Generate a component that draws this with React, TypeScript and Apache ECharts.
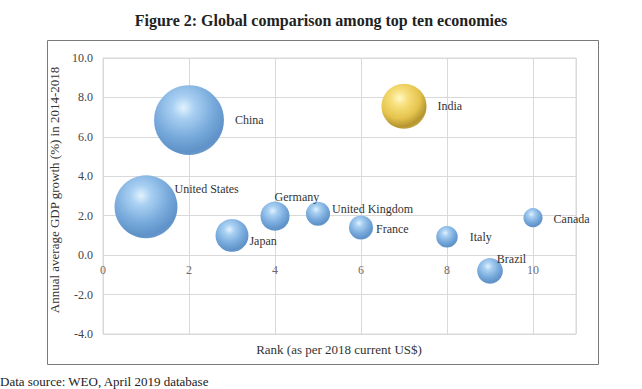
import React, { useEffect, useRef } from "react";
import * as echarts from "echarts";

const countries = ["United States", "China", "Japan", "Germany", "United Kingdom", "France", "India", "Italy", "Brazil", "Canada"];
const ranks = [1, 2, 3, 4, 5, 6, 7, 8, 9, 10];
const growth = [2.45, 6.85, 1.0, 1.98, 2.1, 1.4, 7.55, 0.93, -0.8, 1.9];
// bubble value (estimated, GDP PPP in US$ trillion)
const bubbleValue = [20.5, 25.3, 5.6, 4.4, 3.0, 3.0, 10.5, 2.4, 3.4, 1.9];
const yTicks = [-4, -2, 0, 2, 4, 6, 8, 10];
const xTicks = [0, 2, 4, 6, 8, 10];

const labelOffsets: Record<string, [number, number]> = {
  "United States": [-8, -18],
  China: [6, 0],
  Japan: [-4, 6],
  Germany: [-20, -19],
  "United Kingdom": [-3, -5],
  France: [-2, 1],
  India: [6, 0],
  Italy: [7, 0],
  Brazil: [-11, -12],
  Canada: [6, 1],
};

const blueGrad = {
  type: "radial", x: 0.42, y: 0.32, r: 0.72,
  colorStops: [
    { offset: 0, color: "#e2f2fd" },
    { offset: 0.22, color: "#a9d0f2" },
    { offset: 0.6, color: "#78aadc" },
    { offset: 0.88, color: "#5f92c8" },
    { offset: 1, color: "#6d9bcc" },
  ],
};
const goldGrad = {
  type: "radial", x: 0.4, y: 0.32, r: 0.72,
  colorStops: [
    { offset: 0, color: "#fff8c6" },
    { offset: 0.25, color: "#f7df7c" },
    { offset: 0.62, color: "#e5c44e" },
    { offset: 0.88, color: "#b59530" },
    { offset: 1, color: "#c9ab48" },
  ],
};

const serif = "'Liberation Serif', 'DejaVu Serif', serif";

export default function App() {
  const ref = useRef<HTMLDivElement>(null);
  useEffect(() => {
    if (!ref.current) return;
    const chart = echarts.init(ref.current, null, { renderer: "svg" });
    const data = countries.map((c, i) => ({
      name: c,
      value: [ranks[i], growth[i], bubbleValue[i]],
      symbolSize: 13.9 * Math.sqrt(bubbleValue[i]),
      itemStyle: { color: c === "India" ? goldGrad : blueGrad },
      label: { offset: labelOffsets[c] },
    }));
    chart.setOption({
      animation: false,
      backgroundColor: "#ffffff",
      textStyle: { fontFamily: serif },
      title: {
        text: "Figure 2: Global comparison among top ten economies",
        left: "center",
        top: 7,
        textStyle: { fontFamily: serif, fontSize: 16, fontWeight: "bold", color: "#222" },
      },
      graphic: [
        {
          type: "rect",
          shape: { x: 47.5, y: 40.5, width: 551, height: 324 },
          style: { fill: "none", stroke: "#7a7a7a", lineWidth: 1 },
          z: 0,
        },
        {
          type: "text",
          x: 339,
          y: 349,
          style: {
            text: "Rank (as per 2018 current US$)",
            font: `13px ${serif}`,
            fill: "#333",
            align: "center",
            verticalAlign: "middle",
          },
        },
        {
          type: "text",
          x: 0,
          y: 381,
          style: {
            text: "Data source: WEO, April 2019 database",
            font: `13px ${serif}`,
            fill: "#222",
            align: "left",
            verticalAlign: "middle",
          },
        },
      ],
      grid: {
        left: 103,
        right: 66,
        top: 58,
        bottom: 55,
        show: true,
        borderColor: "#d9d9d9",
        borderWidth: 1,
      },
      xAxis: {
        type: "value",
        min: 0,
        max: 11,
        interval: 2,
        axisLine: { show: false },
        axisTick: { show: false },
        splitLine: { show: true, lineStyle: { color: "#d9d9d9" } },
        axisLabel: { show: false },
      },
      yAxis: {
        type: "value",
        min: yTicks[0],
        max: yTicks[yTicks.length - 1],
        interval: 2,
        name: "Annual average GDP growth (%) in 2014-2018",
        nameLocation: "middle",
        nameGap: 38,
        nameTextStyle: { fontFamily: serif, fontSize: 13, color: "#333", padding: [0, 0, 0, 12] },
        axisLine: { show: true, onZero: false, lineStyle: { color: "#d9d9d9" } },
        axisTick: { show: false },
        splitLine: { show: true, lineStyle: { color: "#d9d9d9" } },
        axisLabel: {
          margin: 10,
          fontFamily: serif,
          fontSize: 12,
          color: "#444",
          formatter: (v: number) => v.toFixed(1),
        },
      },
      series: [
        {
          type: "scatter",
          data,
          label: {
            show: true,
            position: "right",
            distance: 5,
            formatter: "{b}",
            fontFamily: serif,
            fontSize: 12,
            color: "#333",
          },
          itemStyle: { opacity: 1 },
          emphasis: { disabled: true },
        },
        {
          // x-axis tick labels sitting on the zero line
          type: "scatter",
          data: xTicks.map((v) => [v, 0]),
          symbolSize: 1,
          itemStyle: { color: "rgba(0,0,0,0)" },
          label: {
            show: true,
            position: "bottom",
            distance: 8,
            formatter: (p: any) => String(p.value[0]),
            fontFamily: serif,
            fontSize: 12,
            color: "#444",
          },
          silent: true,
          emphasis: { disabled: true },
          z: 1,
        },
      ],
    });
    return () => chart.dispose();
  }, []);
  return <div ref={ref} style={{ width: 642, height: 389, position: "absolute", left: 0, top: 0 }} />;
}
